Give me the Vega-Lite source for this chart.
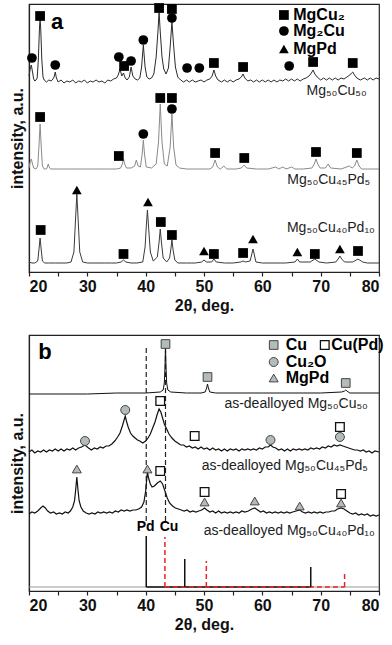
{
"$schema": "https://vega.github.io/schema/vega-lite/v6.json",
"padding": {"left": 8, "top": 2, "right": 5, "bottom": 0},
"background": "white",
"spacing": 20,
"config": {
  "font": "Liberation Sans",
  "view": {"stroke": "#222", "strokeWidth": 1.2},
  "axis": {"domainColor": "#222", "domainWidth": 1.2, "tickColor": "#222", "tickSize": 4, "tickWidth": 1.2, "labelFont": "Liberation Sans", "labelFontWeight": "bold", "labelFontSize": 16, "labelColor": "#111", "labelPadding": 2, "titleFont": "Liberation Sans", "titleFontSize": 16, "titleFontWeight": "bold", "titleColor": "#111", "grid": false}
},
"datasets": {
  "a1": [{"x":20.0,"y":196},{"x":20.2,"y":203},{"x":20.4,"y":207},{"x":20.6,"y":200},{"x":20.8,"y":193},{"x":21.0,"y":191},{"x":21.2,"y":192},{"x":21.4,"y":194},{"x":21.6,"y":212},{"x":21.8,"y":245},{"x":21.9,"y":252},{"x":22.0,"y":245},{"x":22.2,"y":212},{"x":22.4,"y":195},{"x":22.6,"y":192},{"x":23.0,"y":190},{"x":23.4,"y":192},{"x":23.8,"y":191},{"x":24.1,"y":193},{"x":24.3,"y":195},{"x":24.5,"y":200},{"x":24.7,"y":194},{"x":25.0,"y":190},{"x":25.5,"y":192},{"x":26.0,"y":189},{"x":26.5,"y":191},{"x":27.0,"y":190},{"x":27.5,"y":192},{"x":28.0,"y":189},{"x":28.5,"y":191},{"x":29.0,"y":190},{"x":29.5,"y":192},{"x":30.0,"y":189},{"x":30.5,"y":191},{"x":31.0,"y":190},{"x":31.5,"y":192},{"x":32.0,"y":190},{"x":32.5,"y":191},{"x":33.0,"y":189},{"x":33.5,"y":192},{"x":34.0,"y":191},{"x":34.5,"y":193},{"x":35.0,"y":194},{"x":35.3,"y":197},{"x":35.6,"y":203},{"x":35.9,"y":196},{"x":36.2,"y":199},{"x":36.5,"y":194},{"x":36.8,"y":192},{"x":37.2,"y":195},{"x":37.5,"y":205},{"x":37.8,"y":196},{"x":38.2,"y":193},{"x":38.6,"y":192},{"x":39.0,"y":194},{"x":39.3,"y":205},{"x":39.6,"y":227},{"x":39.9,"y":205},{"x":40.2,"y":195},{"x":40.6,"y":193},{"x":41.0,"y":194},{"x":41.4,"y":198},{"x":41.8,"y":215},{"x":42.1,"y":240},{"x":42.3,"y":260},{"x":42.5,"y":240},{"x":42.8,"y":215},{"x":43.1,"y":203},{"x":43.5,"y":198},{"x":43.9,"y":204},{"x":44.2,"y":225},{"x":44.5,"y":250},{"x":44.8,"y":226},{"x":45.1,"y":205},{"x":45.5,"y":195},{"x":46.0,"y":192},{"x":46.5,"y":190},{"x":47.0,"y":192},{"x":47.5,"y":190},{"x":48.0,"y":192},{"x":48.5,"y":190},{"x":49.0,"y":191},{"x":49.5,"y":192},{"x":50.0,"y":190},{"x":50.5,"y":192},{"x":51.0,"y":193},{"x":51.4,"y":196},{"x":51.7,"y":202},{"x":52.0,"y":196},{"x":52.4,"y":192},{"x":53.0,"y":190},{"x":53.5,"y":192},{"x":54.0,"y":190},{"x":54.5,"y":192},{"x":55.0,"y":190},{"x":55.5,"y":192},{"x":56.0,"y":193},{"x":56.4,"y":195},{"x":56.7,"y":198},{"x":57.0,"y":194},{"x":57.5,"y":191},{"x":58.0,"y":192},{"x":58.5,"y":190},{"x":59.0,"y":192},{"x":59.5,"y":190},{"x":60.0,"y":192},{"x":60.5,"y":190},{"x":61.0,"y":192},{"x":61.5,"y":190},{"x":62.0,"y":192},{"x":62.5,"y":190},{"x":63.0,"y":192},{"x":63.5,"y":191},{"x":64.0,"y":193},{"x":64.5,"y":191},{"x":65.0,"y":193},{"x":65.5,"y":191},{"x":66.0,"y":193},{"x":66.5,"y":191},{"x":67.0,"y":193},{"x":67.5,"y":194},{"x":68.0,"y":196},{"x":68.4,"y":199},{"x":68.7,"y":202},{"x":69.0,"y":198},{"x":69.4,"y":195},{"x":70.0,"y":192},{"x":70.5,"y":194},{"x":71.0,"y":192},{"x":71.5,"y":194},{"x":72.0,"y":192},{"x":72.5,"y":194},{"x":73.0,"y":192},{"x":73.5,"y":194},{"x":74.0,"y":193},{"x":74.5,"y":195},{"x":75.0,"y":197},{"x":75.3,"y":199},{"x":75.5,"y":200},{"x":75.8,"y":197},{"x":76.2,"y":194},{"x":76.8,"y":192},{"x":77.5,"y":194},{"x":78.0,"y":192},{"x":78.5,"y":194},{"x":79.0,"y":192},{"x":79.5,"y":194},{"x":80.0,"y":193}],
  "a2": [{"x":20.0,"y":104},{"x":20.2,"y":110},{"x":20.4,"y":113},{"x":20.6,"y":108},{"x":20.8,"y":104},{"x":21.2,"y":103},{"x":21.5,"y":106},{"x":21.7,"y":125},{"x":21.9,"y":148},{"x":22.1,"y":125},{"x":22.3,"y":106},{"x":22.6,"y":103},{"x":23.0,"y":103},{"x":23.15,"y":105},{"x":23.3,"y":108},{"x":23.45,"y":105},{"x":23.7,"y":103},{"x":25,"y":103},{"x":27,"y":103},{"x":29,"y":103},{"x":31,"y":103},{"x":33,"y":103},{"x":35,"y":103},{"x":35.7,"y":104},{"x":36.0,"y":108},{"x":36.2,"y":113},{"x":36.4,"y":108},{"x":36.7,"y":104},{"x":37.5,"y":104},{"x":38.1,"y":106},{"x":38.4,"y":112},{"x":38.7,"y":106},{"x":39.1,"y":105},{"x":39.4,"y":118},{"x":39.6,"y":132},{"x":39.8,"y":118},{"x":40.1,"y":105},{"x":41.0,"y":104},{"x":41.8,"y":108},{"x":42.2,"y":130},{"x":42.5,"y":168},{"x":42.8,"y":130},{"x":43.2,"y":108},{"x":43.7,"y":106},{"x":44.2,"y":125},{"x":44.5,"y":158},{"x":44.8,"y":125},{"x":45.2,"y":107},{"x":45.8,"y":104},{"x":47,"y":103},{"x":49,"y":103},{"x":51.0,"y":103},{"x":51.5,"y":105},{"x":51.9,"y":112},{"x":52.3,"y":105},{"x":52.8,"y":103},{"x":53.4,"y":106},{"x":53.9,"y":103},{"x":55.5,"y":103},{"x":56.4,"y":104},{"x":56.9,"y":107},{"x":57.3,"y":104},{"x":59,"y":103},{"x":61,"y":103},{"x":62.3,"y":105},{"x":62.8,"y":103},{"x":63.5,"y":105},{"x":64.1,"y":103},{"x":65.0,"y":105},{"x":65.6,"y":103},{"x":67,"y":103},{"x":68.5,"y":104},{"x":68.9,"y":108},{"x":69.2,"y":113},{"x":69.5,"y":108},{"x":69.9,"y":104},{"x":70.8,"y":104},{"x":71.3,"y":108},{"x":71.7,"y":104},{"x":73.5,"y":103},{"x":74.9,"y":106},{"x":75.4,"y":104},{"x":75.8,"y":106},{"x":76.2,"y":112},{"x":76.6,"y":106},{"x":77.0,"y":103},{"x":78,"y":103},{"x":80,"y":103}],
  "a3": [{"x":20.0,"y":10},{"x":20.5,"y":9},{"x":21.0,"y":9},{"x":21.5,"y":11},{"x":21.7,"y":22},{"x":21.9,"y":34},{"x":22.1,"y":22},{"x":22.3,"y":11},{"x":22.7,"y":9},{"x":23.5,"y":9},{"x":24.5,"y":9},{"x":25.5,"y":9},{"x":26.5,"y":9},{"x":27.2,"y":10},{"x":27.7,"y":20},{"x":28.0,"y":55},{"x":28.2,"y":78},{"x":28.4,"y":55},{"x":28.7,"y":20},{"x":29.2,"y":10},{"x":30,"y":9},{"x":31,"y":9},{"x":32,"y":9},{"x":33,"y":9},{"x":34,"y":9},{"x":35,"y":9},{"x":35.8,"y":10},{"x":36.2,"y":12},{"x":36.6,"y":10},{"x":37.5,"y":9},{"x":38.5,"y":9},{"x":39.5,"y":10},{"x":39.9,"y":25},{"x":40.1,"y":45},{"x":40.3,"y":62},{"x":40.5,"y":45},{"x":40.8,"y":20},{"x":41.3,"y":11},{"x":42.0,"y":15},{"x":42.3,"y":30},{"x":42.5,"y":43},{"x":42.7,"y":30},{"x":43.0,"y":14},{"x":43.6,"y":10},{"x":44.1,"y":14},{"x":44.3,"y":22},{"x":44.5,"y":32},{"x":44.7,"y":22},{"x":45.0,"y":12},{"x":45.5,"y":9},{"x":47,"y":9},{"x":48.5,"y":9},{"x":49.6,"y":10},{"x":50.0,"y":12},{"x":50.4,"y":10},{"x":51.3,"y":10},{"x":51.7,"y":13},{"x":52.1,"y":10},{"x":53.5,"y":9},{"x":55,"y":9},{"x":56.3,"y":10},{"x":56.7,"y":11},{"x":57.1,"y":10},{"x":57.9,"y":11},{"x":58.2,"y":18},{"x":58.4,"y":23},{"x":58.6,"y":18},{"x":58.9,"y":10},{"x":60,"y":9},{"x":62,"y":9},{"x":64,"y":9},{"x":65.6,"y":10},{"x":66.0,"y":13},{"x":66.4,"y":10},{"x":68.2,"y":10},{"x":69.0,"y":13},{"x":69.7,"y":10},{"x":71,"y":9},{"x":72.6,"y":10},{"x":73.0,"y":13},{"x":73.3,"y":16},{"x":73.6,"y":13},{"x":74.1,"y":10},{"x":75.5,"y":10},{"x":76.4,"y":13},{"x":77.2,"y":10},{"x":78,"y":9},{"x":80,"y":9}],
  "a_marks": [
    {"x":21.9,"y":256,"s":"MgCu2"},{"x":36.3,"y":206,"s":"MgCu2"},{"x":42.3,"y":264,"s":"MgCu2"},{"x":44.5,"y":263,"s":"MgCu2"},{"x":51.7,"y":209,"s":"MgCu2"},{"x":56.7,"y":205,"s":"MgCu2"},{"x":68.7,"y":210,"s":"MgCu2"},{"x":75.5,"y":209,"s":"MgCu2"},
    {"x":20.5,"y":214,"s":"Mg2Cu"},{"x":24.5,"y":207,"s":"Mg2Cu"},{"x":35.4,"y":215,"s":"Mg2Cu"},{"x":37.5,"y":211,"s":"Mg2Cu"},{"x":39.6,"y":232,"s":"Mg2Cu"},{"x":44.5,"y":254,"s":"Mg2Cu"},{"x":47.1,"y":204,"s":"Mg2Cu"},{"x":49.2,"y":204,"s":"Mg2Cu"},{"x":64.6,"y":206,"s":"Mg2Cu"},
    {"x":21.9,"y":155,"s":"MgCu2"},{"x":35.4,"y":116,"s":"MgCu2"},{"x":42.5,"y":174,"s":"MgCu2"},{"x":44.5,"y":174,"s":"MgCu2"},{"x":51.9,"y":119,"s":"MgCu2"},{"x":56.9,"y":114,"s":"MgCu2"},{"x":69.2,"y":120,"s":"MgCu2"},{"x":76.2,"y":119,"s":"MgCu2"},
    {"x":39.6,"y":138,"s":"Mg2Cu"},{"x":44.5,"y":163,"s":"Mg2Cu"},
    {"x":22.0,"y":42,"s":"MgCu2"},{"x":36.2,"y":18,"s":"MgCu2"},{"x":42.6,"y":50,"s":"MgCu2"},{"x":44.5,"y":37,"s":"MgCu2"},{"x":51.7,"y":18,"s":"MgCu2"},{"x":56.7,"y":19,"s":"MgCu2"},{"x":69.0,"y":18,"s":"MgCu2"},{"x":76.4,"y":21,"s":"MgCu2"},
    {"x":28.2,"y":82,"s":"MgPd"},{"x":40.4,"y":70,"s":"MgPd"},{"x":50.0,"y":21,"s":"MgPd"},{"x":58.4,"y":33,"s":"MgPd"},{"x":66.0,"y":20,"s":"MgPd"},{"x":73.3,"y":23,"s":"MgPd"},
    {"x":63.7,"y":257,"s":"MgCu2"},{"x":63.7,"y":241,"s":"Mg2Cu"},{"x":63.7,"y":223,"s":"MgPd"}
  ],
  "a_text": [
    {"x":65.3,"y":257,"t":"MgCu₂","g":"leg"},{"x":65.3,"y":241,"t":"Mg₂Cu","g":"leg"},{"x":65.3,"y":223,"t":"MgPd","g":"leg"},
    {"x":77.9,"y":181,"t":"Mg₅₀Cu₅₀","g":"lab"},{"x":78.5,"y":92,"t":"Mg₅₀Cu₄₅Pd₅","g":"lab"},{"x":79.3,"y":44,"t":"Mg₅₀Cu₄₀Pd₁₀","g":"lab"},
    {"x":24.8,"y":250,"t":"a","g":"let"}
  ],
  "b1": [{"x":20,"y":197},{"x":25,"y":197},{"x":30,"y":197},{"x":35,"y":198},{"x":40,"y":198},{"x":42.5,"y":199},{"x":43.0,"y":201},{"x":43.2,"y":208},{"x":43.3,"y":222},{"x":43.4,"y":244},{"x":43.5,"y":222},{"x":43.6,"y":208},{"x":43.8,"y":201},{"x":44.3,"y":199},{"x":47,"y":198},{"x":49.5,"y":198},{"x":50.2,"y":199},{"x":50.45,"y":203},{"x":50.6,"y":207},{"x":50.75,"y":203},{"x":51.0,"y":199},{"x":52,"y":198},{"x":60,"y":198},{"x":70,"y":198},{"x":73.6,"y":199},{"x":74.1,"y":200},{"x":74.3,"y":201},{"x":74.5,"y":200},{"x":75.0,"y":198},{"x":80,"y":198}],
  "b2": [{"x":20.0,"y":139},{"x":20.5,"y":141},{"x":21.0,"y":138},{"x":21.5,"y":140},{"x":22.0,"y":139},{"x":22.5,"y":141},{"x":23.0,"y":139},{"x":23.5,"y":141},{"x":24.0,"y":140},{"x":24.5,"y":142},{"x":25.0,"y":140},{"x":25.5,"y":142},{"x":26.0,"y":140},{"x":26.5,"y":142},{"x":27.0,"y":141},{"x":27.5,"y":143},{"x":28.0,"y":141},{"x":28.5,"y":143},{"x":29.0,"y":144},{"x":29.6,"y":146},{"x":30.2,"y":143},{"x":30.7,"y":141},{"x":31.2,"y":143},{"x":31.7,"y":142},{"x":32.2,"y":144},{"x":32.7,"y":143},{"x":33.2,"y":145},{"x":33.7,"y":145},{"x":34.2,"y":147},{"x":34.7,"y":150},{"x":35.2,"y":154},{"x":35.6,"y":158},{"x":36.0,"y":165},{"x":36.3,"y":171},{"x":36.5,"y":175},{"x":36.7,"y":170},{"x":37.0,"y":164},{"x":37.4,"y":158},{"x":37.8,"y":155},{"x":38.2,"y":153},{"x":38.6,"y":151},{"x":39.0,"y":150},{"x":39.5,"y":148},{"x":40.0,"y":150},{"x":40.4,"y":153},{"x":40.8,"y":157},{"x":41.2,"y":163},{"x":41.6,"y":169},{"x":42.0,"y":177},{"x":42.3,"y":182},{"x":42.6,"y":179},{"x":42.9,"y":173},{"x":43.2,"y":167},{"x":43.6,"y":162},{"x":44.0,"y":157},{"x":44.5,"y":153},{"x":45.0,"y":150},{"x":45.5,"y":148},{"x":46.0,"y":146},{"x":46.5,"y":146},{"x":47.0,"y":144},{"x":47.5,"y":145},{"x":48.0,"y":143},{"x":48.5,"y":144},{"x":49.0,"y":142},{"x":49.5,"y":144},{"x":50.0,"y":142},{"x":50.5,"y":143},{"x":51.0,"y":141},{"x":51.5,"y":143},{"x":52.0,"y":141},{"x":52.5,"y":142},{"x":53.0,"y":140},{"x":53.5,"y":142},{"x":54.0,"y":140},{"x":54.5,"y":142},{"x":55.0,"y":141},{"x":55.5,"y":142},{"x":56.0,"y":140},{"x":56.5,"y":142},{"x":57.0,"y":141},{"x":57.5,"y":142},{"x":58.0,"y":141},{"x":58.5,"y":142},{"x":59.0,"y":141},{"x":59.5,"y":143},{"x":60.0,"y":142},{"x":60.5,"y":144},{"x":61.0,"y":144},{"x":61.4,"y":146},{"x":61.8,"y":144},{"x":62.3,"y":143},{"x":62.8,"y":141},{"x":63.3,"y":142},{"x":63.8,"y":140},{"x":64.3,"y":142},{"x":64.8,"y":140},{"x":65.3,"y":142},{"x":65.8,"y":141},{"x":66.3,"y":142},{"x":66.8,"y":141},{"x":67.3,"y":142},{"x":67.8,"y":141},{"x":68.3,"y":143},{"x":68.8,"y":142},{"x":69.3,"y":143},{"x":69.8,"y":142},{"x":70.3,"y":144},{"x":70.8,"y":143},{"x":71.3,"y":145},{"x":71.8,"y":144},{"x":72.3,"y":146},{"x":72.8,"y":145},{"x":73.3,"y":146},{"x":73.8,"y":145},{"x":74.3,"y":144},{"x":74.8,"y":143},{"x":75.3,"y":142},{"x":75.8,"y":141},{"x":76.3,"y":141},{"x":76.8,"y":140},{"x":77.3,"y":141},{"x":77.8,"y":139},{"x":78.3,"y":140},{"x":78.8,"y":138},{"x":79.3,"y":140},{"x":80.0,"y":139}],
  "b3": [{"x":20.0,"y":77},{"x":20.5,"y":79},{"x":21.0,"y":78},{"x":21.5,"y":80},{"x":22.0,"y":83},{"x":22.4,"y":85},{"x":22.8,"y":83},{"x":23.2,"y":80},{"x":23.7,"y":78},{"x":24.2,"y":79},{"x":24.7,"y":77},{"x":25.2,"y":78},{"x":25.7,"y":77},{"x":26.2,"y":79},{"x":26.7,"y":78},{"x":27.1,"y":80},{"x":27.5,"y":84},{"x":27.8,"y":90},{"x":28.0,"y":101},{"x":28.2,"y":114},{"x":28.4,"y":101},{"x":28.6,"y":90},{"x":28.9,"y":84},{"x":29.3,"y":80},{"x":29.8,"y":78},{"x":30.3,"y":77},{"x":30.8,"y":78},{"x":31.3,"y":77},{"x":31.8,"y":79},{"x":32.3,"y":78},{"x":32.8,"y":79},{"x":33.3,"y":78},{"x":33.8,"y":79},{"x":34.3,"y":78},{"x":34.8,"y":80},{"x":35.3,"y":79},{"x":35.8,"y":81},{"x":36.3,"y":80},{"x":36.8,"y":81},{"x":37.3,"y":80},{"x":37.8,"y":81},{"x":38.3,"y":81},{"x":38.8,"y":82},{"x":39.3,"y":84},{"x":39.7,"y":89},{"x":40.0,"y":100},{"x":40.2,"y":113},{"x":40.3,"y":119},{"x":40.5,"y":113},{"x":40.8,"y":107},{"x":41.1,"y":104},{"x":41.5,"y":105},{"x":42.0,"y":108},{"x":42.5,"y":110},{"x":42.9,"y":107},{"x":43.3,"y":100},{"x":43.7,"y":93},{"x":44.1,"y":88},{"x":44.6,"y":85},{"x":45.1,"y":83},{"x":45.6,"y":82},{"x":46.1,"y":81},{"x":46.6,"y":80},{"x":47.1,"y":81},{"x":47.6,"y":79},{"x":48.1,"y":80},{"x":48.6,"y":79},{"x":49.1,"y":80},{"x":49.6,"y":81},{"x":50.1,"y":83},{"x":50.5,"y":81},{"x":51.0,"y":79},{"x":51.5,"y":80},{"x":52.0,"y":78},{"x":52.5,"y":80},{"x":53.0,"y":78},{"x":53.5,"y":79},{"x":54.0,"y":78},{"x":54.5,"y":79},{"x":55.0,"y":78},{"x":55.5,"y":79},{"x":56.0,"y":78},{"x":56.5,"y":80},{"x":57.0,"y":79},{"x":57.6,"y":80},{"x":58.2,"y":82},{"x":58.7,"y":83},{"x":59.2,"y":81},{"x":59.7,"y":79},{"x":60.2,"y":80},{"x":60.7,"y":78},{"x":61.2,"y":79},{"x":61.7,"y":78},{"x":62.2,"y":79},{"x":62.7,"y":78},{"x":63.2,"y":79},{"x":63.7,"y":78},{"x":64.2,"y":79},{"x":64.7,"y":78},{"x":65.2,"y":79},{"x":65.8,"y":80},{"x":66.4,"y":81},{"x":66.9,"y":79},{"x":67.4,"y":78},{"x":67.9,"y":79},{"x":68.4,"y":78},{"x":68.9,"y":79},{"x":69.4,"y":78},{"x":69.9,"y":79},{"x":70.4,"y":78},{"x":70.9,"y":79},{"x":71.4,"y":79},{"x":71.9,"y":80},{"x":72.4,"y":80},{"x":72.9,"y":82},{"x":73.5,"y":83},{"x":74.0,"y":82},{"x":74.5,"y":80},{"x":75.0,"y":78},{"x":75.5,"y":77},{"x":76.0,"y":78},{"x":76.5,"y":76},{"x":77.0,"y":77},{"x":77.5,"y":76},{"x":78.0,"y":77},{"x":78.5,"y":75},{"x":79.0,"y":76},{"x":79.5,"y":75},{"x":80.0,"y":76}],
  "b_hlines": [{"x":20,"x2":80,"y":4,"g":"gray"},{"x":40.1,"x2":68.3,"y":4,"g":"Pd"},{"x":43.3,"x2":74.1,"y":4,"g":"Cu"}],
  "b_sticks": [{"x":40.1,"y":4,"y2":55,"g":"Pd"},{"x":46.7,"y":4,"y2":32,"g":"Pd"},{"x":68.3,"y":4,"y2":24,"g":"Pd"},{"x":43.3,"y":4,"y2":54,"g":"Cu"},{"x":50.4,"y":4,"y2":30,"g":"Cu"},{"x":74.1,"y":4,"y2":20,"g":"Cu"}],
  "b_dash": [{"x":40.1,"y":70,"y2":245},{"x":43.4,"y":70,"y2":244}],
  "b_marks": [
    {"x":43.4,"y":247,"s":"Cu"},{"x":50.6,"y":214,"s":"Cu"},{"x":74.3,"y":208,"s":"Cu"},
    {"x":42.5,"y":190,"s":"CuPd"},{"x":48.4,"y":155,"s":"CuPd"},{"x":73.3,"y":164,"s":"CuPd"},{"x":42.5,"y":120,"s":"CuPd"},{"x":50.1,"y":99,"s":"CuPd"},{"x":73.5,"y":97,"s":"CuPd"},
    {"x":29.6,"y":150,"s":"Cu2O"},{"x":36.5,"y":181,"s":"Cu2O"},{"x":61.4,"y":151,"s":"Cu2O"},{"x":73.3,"y":154,"s":"Cu2O"},
    {"x":28.2,"y":122,"s":"MgPd"},{"x":40.3,"y":122,"s":"MgPd"},{"x":50.1,"y":89,"s":"MgPd"},{"x":58.7,"y":90,"s":"MgPd"},{"x":66.4,"y":85,"s":"MgPd"},{"x":73.5,"y":88,"s":"MgPd"},
    {"x":61.95,"y":246,"s":"Cu"},{"x":70.7,"y":246,"s":"CuPd"},{"x":61.95,"y":229,"s":"Cu2O"},{"x":61.95,"y":213,"s":"MgPd"}
  ],
  "b_text": [
    {"x":64.0,"y":246,"t":"Cu","g":"leg"},{"x":71.8,"y":246,"t":"Cu(Pd)","g":"leg"},{"x":64.0,"y":229,"t":"Cu₂O","g":"leg"},{"x":64.0,"y":213,"t":"MgPd","g":"leg"},
    {"x":78.1,"y":187,"t":"as-dealloyed Mg₅₀Cu₅₀","g":"lab"},{"x":78.1,"y":125,"t":"as-dealloyed Mg₅₀Cu₄₅Pd₅","g":"lab"},{"x":79.3,"y":60,"t":"as-dealloyed Mg₅₀Cu₄₀Pd₁₀","g":"lab"},
    {"x":40.0,"y":64,"t":"Pd","g":"pc"},{"x":44.0,"y":64,"t":"Cu","g":"pc"},
    {"x":22.75,"y":239,"t":"b","g":"let"}
  ]
},
"vconcat": [
  {
    "width": 350, "height": 268,
    "encoding": {
      "x": {"field": "x", "type": "quantitative", "scale": {"domain": [20, 80], "nice": false, "zero": false}, "axis": {"title": "2θ, deg.", "values": [20,25,30,35,40,45,50,55,60,65,70,75,80], "labelExpr": "datum.value % 10 === 0 ? datum.label : ''", "titlePadding": 3}},
      "y": {"field": "y", "type": "quantitative", "scale": {"domain": [0, 268], "nice": false, "zero": false}, "axis": {"title": "intensity, a.u.", "labels": false, "ticks": false, "titlePadding": 4}}
    },
    "layer": [
      {"data": {"name": "a1"}, "mark": {"type": "line", "color": "#2b2b2b", "strokeWidth": 1}},
      {"data": {"name": "a2"}, "mark": {"type": "line", "color": "#8a8a8a", "strokeWidth": 1}},
      {"data": {"name": "a3"}, "mark": {"type": "line", "color": "#3a3a3a", "strokeWidth": 1}},
      {"data": {"name": "a_marks"}, "mark": {"type": "point", "filled": true, "size": 95, "opacity": 1, "color": "#000"},
       "encoding": {"shape": {"field": "s", "type": "nominal", "scale": {"domain": ["MgCu2", "Mg2Cu", "MgPd"], "range": ["square", "circle", "triangle-up"]}, "legend": null}}},
      {"data": {"name": "a_text"}, "transform": [{"filter": "datum.g === 'leg'"}], "mark": {"type": "text", "align": "left", "baseline": "middle", "fontSize": 16, "fontWeight": "bold", "font": "Liberation Sans", "color": "#000"}, "encoding": {"text": {"field": "t"}}},
      {"data": {"name": "a_text"}, "transform": [{"filter": "datum.g === 'lab'"}], "mark": {"type": "text", "align": "right", "baseline": "middle", "fontSize": 14, "font": "Liberation Sans", "color": "#222"}, "encoding": {"text": {"field": "t"}}},
      {"data": {"name": "a_text"}, "transform": [{"filter": "datum.g === 'let'"}], "mark": {"type": "text", "align": "center", "baseline": "middle", "fontSize": 22, "fontWeight": "bold", "font": "Liberation Sans", "color": "#000"}, "encoding": {"text": {"field": "t"}}}
    ]
  },
  {
    "width": 350, "height": 256,
    "encoding": {
      "x": {"field": "x", "type": "quantitative", "scale": {"domain": [20, 80], "nice": false, "zero": false}, "axis": {"title": "2θ, deg.", "values": [20,25,30,35,40,45,50,55,60,65,70,75,80], "labelExpr": "datum.value % 10 === 0 ? datum.label : ''", "titlePadding": 3}},
      "y": {"field": "y", "type": "quantitative", "scale": {"domain": [0, 256], "nice": false, "zero": false}, "axis": {"title": "intensity, a.u.", "labels": false, "ticks": false, "titlePadding": 4}}
    },
    "layer": [
      {"data": {"name": "b_hlines"}, "transform": [{"filter": "datum.g === 'gray'"}], "mark": {"type": "rule", "color": "#9a9a9a", "strokeWidth": 1.2}, "encoding": {"x2": {"field": "x2"}}},
      {"data": {"name": "b_hlines"}, "transform": [{"filter": "datum.g === 'Pd'"}], "mark": {"type": "rule", "color": "#111", "strokeWidth": 1.5}, "encoding": {"x2": {"field": "x2"}}},
      {"data": {"name": "b_hlines"}, "transform": [{"filter": "datum.g === 'Cu'"}], "mark": {"type": "rule", "color": "#e8242b", "strokeWidth": 1.5, "strokeDash": [5, 3]}, "encoding": {"x2": {"field": "x2"}}},
      {"data": {"name": "b_sticks"}, "transform": [{"filter": "datum.g === 'Pd'"}], "mark": {"type": "rule", "color": "#111", "strokeWidth": 1.5}, "encoding": {"y2": {"field": "y2"}}},
      {"data": {"name": "b_sticks"}, "transform": [{"filter": "datum.g === 'Cu'"}], "mark": {"type": "rule", "color": "#e8242b", "strokeWidth": 1.5, "strokeDash": [5, 3]}, "encoding": {"y2": {"field": "y2"}}},
      {"data": {"name": "b_dash"}, "mark": {"type": "rule", "color": "#222", "strokeWidth": 1.2, "strokeDash": [5, 3]}, "encoding": {"y2": {"field": "y2"}}},
      {"data": {"name": "b1"}, "mark": {"type": "line", "color": "#111", "strokeWidth": 1}},
      {"data": {"name": "b2"}, "mark": {"type": "line", "color": "#111", "strokeWidth": 1.2}},
      {"data": {"name": "b3"}, "mark": {"type": "line", "color": "#111", "strokeWidth": 1.2}},
      {"data": {"name": "b_marks"}, "transform": [{"filter": "datum.s === 'Cu'"}], "mark": {"type": "point", "shape": "square", "filled": true, "size": 75, "opacity": 1, "fill": "#b4bcbb", "stroke": "#444", "strokeWidth": 1}},
      {"data": {"name": "b_marks"}, "transform": [{"filter": "datum.s === 'CuPd'"}], "mark": {"type": "point", "shape": "square", "filled": true, "size": 75, "opacity": 1, "fill": "#ffffff", "stroke": "#111", "strokeWidth": 1.3}},
      {"data": {"name": "b_marks"}, "transform": [{"filter": "datum.s === 'Cu2O'"}], "mark": {"type": "point", "shape": "circle", "filled": true, "size": 80, "opacity": 1, "fill": "#b4bcbb", "stroke": "#444", "strokeWidth": 1}},
      {"data": {"name": "b_marks"}, "transform": [{"filter": "datum.s === 'MgPd'"}], "mark": {"type": "point", "shape": "triangle-up", "filled": true, "size": 80, "opacity": 1, "fill": "#b4bcbb", "stroke": "#444", "strokeWidth": 1}},
      {"data": {"name": "b_text"}, "transform": [{"filter": "datum.g === 'leg'"}], "mark": {"type": "text", "align": "left", "baseline": "middle", "fontSize": 16, "fontWeight": "bold", "font": "Liberation Sans", "color": "#000"}, "encoding": {"text": {"field": "t"}}},
      {"data": {"name": "b_text"}, "transform": [{"filter": "datum.g === 'lab'"}], "mark": {"type": "text", "align": "right", "baseline": "middle", "fontSize": 14, "font": "Liberation Sans", "color": "#222"}, "encoding": {"text": {"field": "t"}}},
      {"data": {"name": "b_text"}, "transform": [{"filter": "datum.g === 'pc'"}], "mark": {"type": "text", "align": "center", "baseline": "middle", "fontSize": 14, "fontWeight": "bold", "font": "Liberation Sans", "color": "#000"}, "encoding": {"text": {"field": "t"}}},
      {"data": {"name": "b_text"}, "transform": [{"filter": "datum.g === 'let'"}], "mark": {"type": "text", "align": "center", "baseline": "middle", "fontSize": 22, "fontWeight": "bold", "font": "Liberation Sans", "color": "#000"}, "encoding": {"text": {"field": "t"}}}
    ]
  }
]
}
